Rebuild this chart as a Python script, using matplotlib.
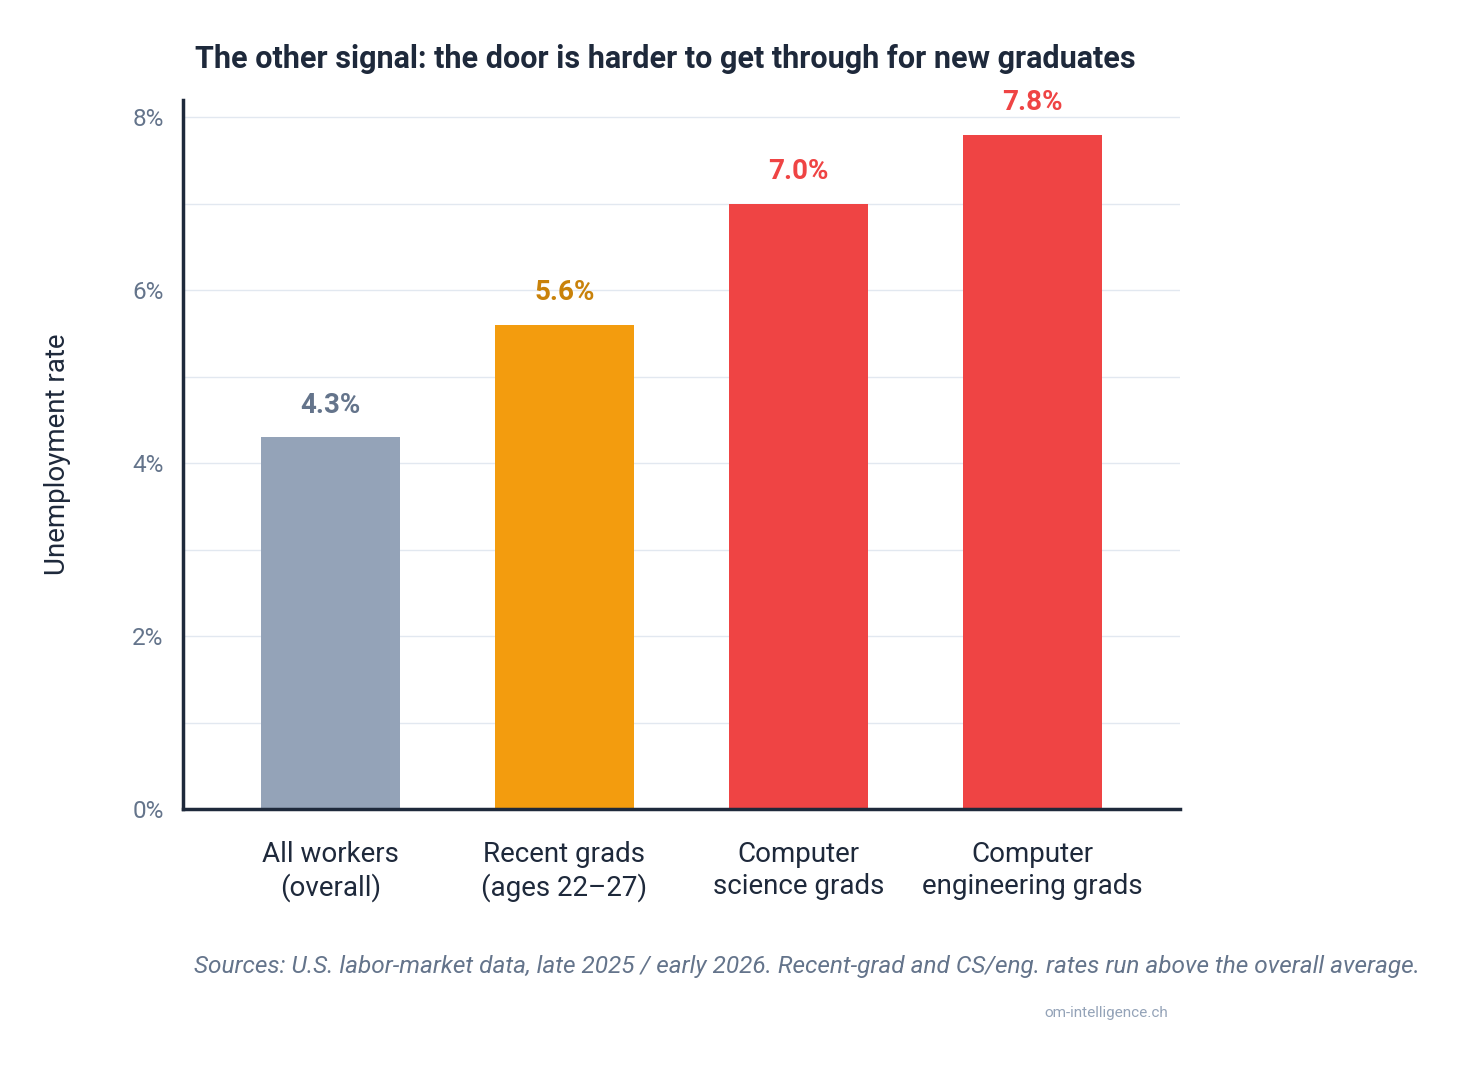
import matplotlib
matplotlib.use("Agg")
import matplotlib.pyplot as plt
from matplotlib.ticker import FuncFormatter

categories = ["All workers\n(overall)", "Recent grads\n(ages 22–27)", "Computer\nscience grads", "Computer\nengineering grads"]
values = [4.3, 5.6, 7.0, 7.8]
bar_colors = ["#94A3B8", "#F39C0E", "#EF4444", "#EF4444"]
label_colors = ["#64748B", "#C9820A", "#EF4444", "#EF4444"]
value_labels = ["4.3%", "5.6%", "7.0%", "7.8%"]
y_ticks = [0, 2, 4, 6, 8]
y_minor = [1, 3, 5, 7]

plt.rcParams['font.family'] = ['Roboto', 'DejaVu Sans']

fig = plt.figure(figsize=(14.67, 10.69), dpi=100)
ax = fig.add_axes([183/1467, 260/1069, 997/1467, 709/1069])

x = list(range(len(categories)))
ax.bar(x, values, width=0.595, color=bar_colors, zorder=3)
ax.set_xlim(-0.63, 3.63)
ax.set_ylim(0, 8.2)

ax.set_yticks(y_ticks)
ax.set_yticks(y_minor, minor=True)
ax.yaxis.set_major_formatter(FuncFormatter(lambda v, p: f"{v:.0f}%"))
ax.grid(axis='y', which='both', color='#E2E8F0', linewidth=1, zorder=0)
ax.tick_params(axis='y', which='both', length=0, labelsize=17.5, labelcolor='#64748B', pad=14)
ax.set_xticks(x)
ax.set_xticklabels(categories, fontsize=20, color='#1E293B', linespacing=1.25)
ax.tick_params(axis='x', length=0, pad=23)

for s in ['top', 'right']:
    ax.spines[s].set_visible(False)
for s in ['left', 'bottom']:
    ax.spines[s].set_color('#1E293B')
    ax.spines[s].set_linewidth(2.5)
    ax.spines[s].set_zorder(4)

for xi, v, lab, c in zip(x, values, value_labels, label_colors):
    ax.annotate(lab, (xi, v), xytext=(0, 23), textcoords='offset points',
                ha='center', va='center', fontsize=20, fontweight='bold', color=c)

ax.set_ylabel("Unemployment rate", fontsize=20, color='#1E293B', labelpad=44)

fig.text(195/1467, 1 - 59/1069, "The other signal: the door is harder to get through for new graduates",
         fontsize=22, fontweight='bold', color='#1E293B', ha='left', va='center')
fig.text(194/1467, 1 - 966/1069,
         "Sources: U.S. labor-market data, late 2025 / early 2026. Recent-grad and CS/eng. rates run above the overall average.",
         fontsize=17.6, style='italic', color='#64748B', ha='left', va='center')
fig.text(1168/1467, 1 - 1013/1069, "om-intelligence.ch", fontsize=11, color='#94A3B8', ha='right', va='center')

fig.savefig("out.png", dpi=100, facecolor='white')
